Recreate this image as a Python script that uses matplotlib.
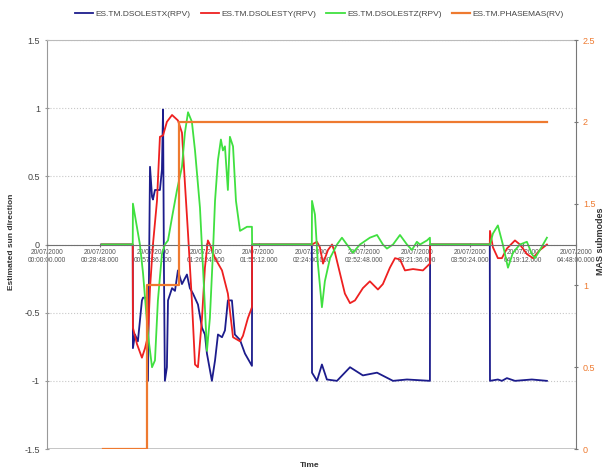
import matplotlib
matplotlib.use('Agg')
import matplotlib.pyplot as plt

plt.rcParams['font.family'] = ['Liberation Sans', 'DejaVu Sans']

# time in minutes since 20/07/2000 00:00:00
x_ticks = [0, 28.8, 57.6, 86.4, 115.2, 144, 172.8, 201.6, 230.4, 259.2, 288]
x_labels = ['20/07/2000\n00:00:00.000', '20/07/2000\n00:28:48.000', '20/07/2000\n00:57:36.000',
            '20/07/2000\n01:26:24.000', '20/07/2000\n01:55:12.000', '20/07/2000\n02:24:00.000',
            '20/07/2000\n02:52:48.000', '20/07/2000\n03:21:36.000', '20/07/2000\n03:50:24.000',
            '20/07/2000\n04:19:12.000', '20/07/2000\n04:48:00.000']

t_x = [29.9, 46.7, 46.8, 47.9, 49.5, 51.7, 52.3, 54.4, 55.0, 56.1, 57.2, 57.7, 58.8, 61.5, 62.6,
       63.2, 63.7, 64.2, 65.3, 65.9, 68.1, 69.7, 71.3, 73.5, 76.2, 77.8, 79.5, 82.2, 84.4, 86.0,
       87.1, 89.8, 91.5, 93.1, 95.3, 96.9, 98.5, 100.7, 102.3, 105.1, 107.8, 111.6, 111.7,
       144.2, 144.3, 147.0, 149.7, 152.4, 157.9, 165.0, 172.0, 179.7, 188.4, 196.0, 208.5, 208.6,
       241.1, 241.2, 245.5, 247.7, 250.4, 254.8, 264.0, 272.2]
dsolest_x = [0, 0, -0.76, -0.66, -0.71, -0.41, -0.39, -0.39, -1.0, 0.57, 0.35, 0.33, 0.40, 0.40, 0.55,
             0.99, -0.2, -1.0, -0.90, -0.41, -0.32, -0.34, -0.19, -0.29, -0.22, -0.32, -0.36, -0.44, -0.61, -0.66,
             -0.80, -1.0, -0.85, -0.66, -0.68, -0.63, -0.41, -0.41, -0.66, -0.70, -0.80, -0.89, 0,
             0, -0.94, -1.0, -0.88, -0.99, -1.0, -0.90, -0.96, -0.94, -1.0, -0.99, -1.0, 0,
             0, -1.0, -0.99, -1.0, -0.98, -1.0, -0.99, -1.0]

t_y = [29.9, 46.7, 46.8, 49.0, 51.7, 53.4, 55.0, 56.1, 57.7, 59.9, 61.5, 63.2, 65.3, 68.1, 71.3,
       73.5, 75.1, 76.8, 78.9, 80.6, 82.2, 84.4, 86.0, 87.6, 88.7, 91.5, 95.3, 98.5, 101.3, 105.1,
       106.7, 109.4, 111.6, 111.7,
       144.3, 147.0, 148.6, 150.3, 153.0, 155.2, 156.8, 159.5, 162.2, 165.0, 167.7, 172.0, 175.8,
       180.2, 182.9, 186.7, 189.5, 192.2, 194.9, 199.3, 204.7, 208.5, 208.6,
       241.1, 241.2, 242.8, 245.5, 247.7, 250.4, 254.8, 257.5, 261.3, 264.6, 268.4, 272.2]
dsolest_y = [0, 0, -0.61, -0.73, -0.83, -0.76, -0.67, -0.32, 0.0, 0.32, 0.79, 0.80, 0.90, 0.95, 0.91,
             0.82, 0.45, 0.08, -0.41, -0.88, -0.90, -0.54, -0.17, 0.03, 0.0, -0.10, -0.19, -0.36, -0.68, -0.71,
             -0.67, -0.54, -0.46, 0,
             0.0, 0.02, -0.02, -0.14, -0.04, 0.0, -0.06, -0.21, -0.36, -0.43, -0.41, -0.32, -0.27,
             -0.33, -0.29, -0.17, -0.10, -0.11, -0.19, -0.18, -0.19, -0.14, 0,
             0, 0.10, -0.02, -0.10, -0.10, -0.03, 0.03, 0.0, -0.07, -0.10, -0.04, 0.0]

t_z = [29.9, 46.7, 46.8, 50.6, 52.3, 55.0, 57.2, 58.8, 60.4, 62.6, 64.2, 65.9, 68.1, 70.8, 73.5,
       75.1, 76.8, 78.9, 80.6, 83.3, 85.5, 87.1, 88.7, 90.4, 91.5, 93.1, 94.7, 95.8, 96.9, 98.5,
       99.6, 101.3, 102.9, 105.1, 108.9, 111.6, 111.7,
       144.2, 144.3, 145.9, 147.5, 149.7, 151.3, 154.1, 157.9, 160.6, 163.3, 166.6, 170.4, 175.8,
       179.7, 182.9, 185.1, 188.4, 192.2, 196.0, 198.7, 201.4, 203.1, 206.9, 208.5, 208.6,
       241.2, 242.8, 245.5, 248.2, 251.0, 253.7, 257.5, 261.3, 264.0, 265.7, 268.4, 272.2]
dsolest_z = [0, 0, 0.30, 0.0, -0.21, -0.66, -0.90, -0.85, -0.41, -0.07, 0.0, 0.03, 0.20, 0.40, 0.57,
             0.82, 0.97, 0.90, 0.69, 0.27, -0.32, -0.78, -0.54, -0.05, 0.32, 0.62, 0.77, 0.69, 0.72, 0.40,
             0.79, 0.72, 0.32, 0.10, 0.13, 0.13, 0,
             0, 0.32, 0.22, -0.14, -0.46, -0.27, -0.10, 0.0, 0.05, 0.0, -0.06, 0.0, 0.05,
             0.07, 0.0, -0.03, 0.0, 0.07, 0.0, -0.04, 0.02, 0.0, 0.03, 0.05, 0,
             0, 0.08, 0.14, 0.0, -0.17, -0.06, 0.0, 0.02, -0.07, -0.10, -0.04, 0.05]

t_mas = [30.5, 54.4, 71.9, 272.2]
phasemas = [0, 1, 2, 2]

fig = plt.figure(figsize=(6.14, 4.74), dpi=100)
ax = fig.add_axes([0.0765, 0.0527, 0.8615, 0.8629])
ax2 = ax.twinx()

lx, = ax.plot(t_x, dsolest_x, color='#1c1c8c', lw=1.3, label='ES.TM.DSOLESTX(RPV)')
ly, = ax.plot(t_y, dsolest_y, color='#ee2020', lw=1.3, label='ES.TM.DSOLESTY(RPV)')
lz, = ax.plot(t_z, dsolest_z, color='#40e040', lw=1.3, label='ES.TM.DSOLESTZ(RPV)')
lm, = ax2.plot(t_mas, phasemas, color='#ee7a30', lw=1.6, drawstyle='steps-post', label='ES.TM.PHASEMAS(RV)')

ax.set_xlim(0, 288)
ax.set_ylim(-1.5, 1.5)
ax2.set_ylim(0, 2.5)

ax.set_yticks([-1.5, -1, -0.5, 0, 0.5, 1, 1.5])
ax.set_yticklabels(['-1.5', '-1', '-0.5', '0', '0.5', '1', '1.5'])
ax2.set_yticks([0, 0.5, 1, 1.5, 2, 2.5])
ax2.set_yticklabels(['0', '0.5', '1', '1.5', '2', '2.5'])
ax.set_xticks(x_ticks)
ax.set_xticklabels(x_labels)

ax.yaxis.grid(True, linestyle=':', color='#c8c8c8', lw=0.8)
ax.set_axisbelow(True)
ax.spines['bottom'].set_position(('data', 0))
ax.spines['bottom'].set_color('#707070')
ax.spines['top'].set_color('#bbbbbb')
ax.spines['left'].set_color('#999999')
ax.spines['right'].set_visible(False)
for s in ['top', 'left', 'bottom']:
    ax2.spines[s].set_visible(False)
ax2.spines['right'].set_color('#777777')
ax.axhline(-1.5, color='#bbbbbb', lw=1.2, zorder=0)

ax.tick_params(axis='x', direction='inout', length=3, labelsize=4.8, labelcolor='#555555',
               color='#707070', pad=2)
ax.tick_params(axis='y', direction='inout', length=3, labelsize=6.5, labelcolor='#444444', color='#999999')
ax2.tick_params(axis='y', direction='inout', length=3, labelsize=6.5, labelcolor='#ee7a30', color='#777777')

fig.text(0.018, 0.49, 'Estimated sun direction', rotation=90, ha='center', va='center',
         fontsize=6, fontweight='bold', color='#333333')
fig.text(0.978, 0.49, 'MAS submodes', rotation=90, ha='center', va='center',
         fontsize=6.5, fontweight='bold', color='#333333')
fig.text(0.505, 0.017, 'Time', ha='center', va='center', fontsize=6, fontweight='bold', color='#333333')

fig.legend(handles=[lx, ly, lz, lm], loc='center', bbox_to_anchor=(0.52, 0.97), ncol=4,
           frameon=False, fontsize=6, handlelength=2.2, handletextpad=0.3, columnspacing=1.2,
           labelcolor='#444444')

fig.savefig('out.png', dpi=100)
